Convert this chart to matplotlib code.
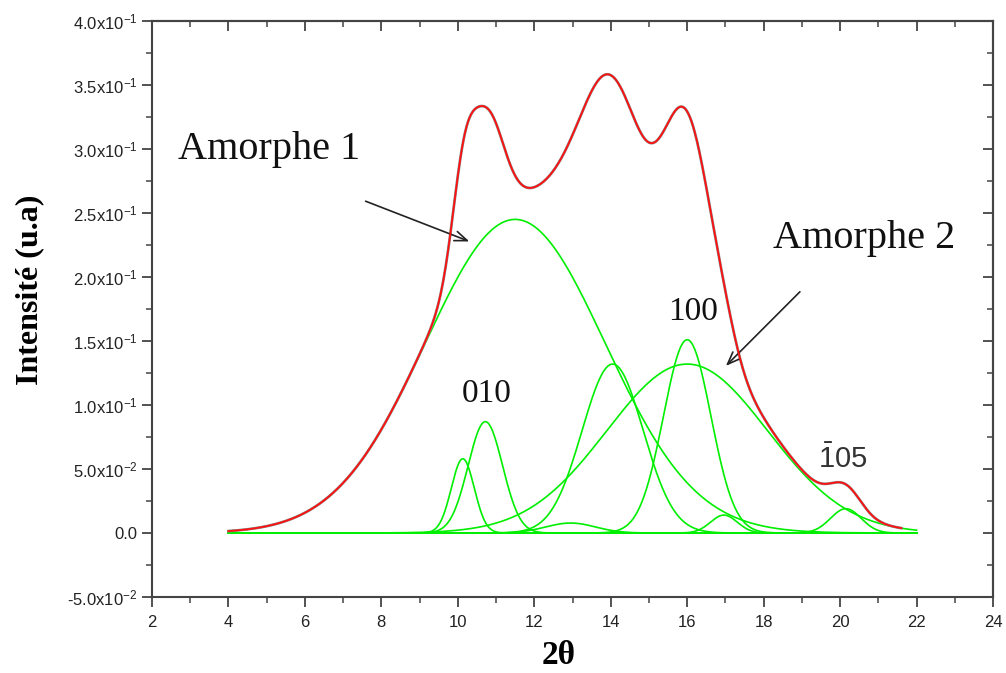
import numpy as np
import matplotlib
matplotlib.use("Agg")
import matplotlib.pyplot as plt
from matplotlib.ticker import MultipleLocator

# ------------------------------------------------------------
# donnees (decomposition du diffractogramme)
# ------------------------------------------------------------
peak_names   = ["Amorphe 1", "p10.1", "010", "p13", "p14", "100", "Amorphe 2", "p17", "-105"]
peak_centers = [11.5, 10.13, 10.72, 12.95, 14.05, 16.0, 16.0, 16.96, 20.15]
peak_heights = [0.245, 0.058, 0.087, 0.0078, 0.132, 0.151, 0.132, 0.014, 0.019]
peak_widths  = [2.35, 0.30, 0.45, 0.65, 0.80, 0.62, 2.10, 0.35, 0.40]

x_start, x_end = 4.0, 22.0      # domaine des composantes
fit_end = 21.6                  # fin de la courbe mesuree / ajustee

y_ticks = [-0.05, 0.0, 0.05, 0.10, 0.15, 0.20, 0.25, 0.30, 0.35, 0.40]
y_tick_labels = [r"-5.0x10$^{-2}$", "0.0", r"5.0x10$^{-2}$", r"1.0x10$^{-1}$",
                 r"1.5x10$^{-1}$", r"2.0x10$^{-1}$", r"2.5x10$^{-1}$",
                 r"3.0x10$^{-1}$", r"3.5x10$^{-1}$", r"4.0x10$^{-1}$"]
x_ticks = [2, 4, 6, 8, 10, 12, 14, 16, 18, 20, 22, 24]

plt.rcParams["mathtext.fontset"] = "custom"
plt.rcParams["mathtext.rm"] = "Liberation Sans"
plt.rcParams["mathtext.it"] = "Liberation Sans:italic"
plt.rcParams["mathtext.bf"] = "Liberation Sans:bold"
plt.rcParams["font.family"] = "Liberation Sans"


def gauss(x, c, h, w):
    return h * np.exp(-(x - c) ** 2 / (2 * w ** 2))


x = np.linspace(x_start, x_end, 900)
composantes = [gauss(x, c, h, w) for c, h, w in zip(peak_centers, peak_heights, peak_widths)]
total = np.sum(composantes, axis=0)
masque = x <= fit_end

fig = plt.figure(figsize=(10.06, 6.73), dpi=100)
ax = fig.add_axes([0.1511, 0.1129, 0.8360, 0.8559])

# composantes vertes
for comp in composantes:
    ax.plot(x, comp, color="#00ee00", lw=1.2, zorder=2)

# donnees (gris) + ajustement (rouge)
ax.plot(x[masque], total[masque], color="#8c8c8c", lw=2.0, zorder=3)
ax.plot(x[masque], total[masque], color="#ff1010", lw=1.3, zorder=4)

ax.set_xlim(2, 24)
ax.set_ylim(-0.05, 0.40)
ax.set_xticks(x_ticks)
ax.set_xticklabels([str(t) for t in x_ticks])
ax.set_yticks(y_ticks)
ax.set_yticklabels(y_tick_labels)
ax.xaxis.set_minor_locator(MultipleLocator(1))
ax.yaxis.set_minor_locator(MultipleLocator(0.025))
ax.tick_params(which="major", direction="out", length=7, width=1.3, color="#444444",
               labelsize=12, labelcolor="#222222")
ax.tick_params(which="minor", direction="out", length=4, width=1.1, color="#444444")
ax.tick_params(axis="x", pad=6)

# ticks vers l'interieur en haut et a droite
sx = ax.secondary_xaxis("top")
sx.set_xticks(x_ticks)
sx.xaxis.set_minor_locator(MultipleLocator(1))
sx.tick_params(which="both", direction="in", labeltop=False, color="#444444")
sx.tick_params(which="major", length=7, width=1.3)
sx.tick_params(which="minor", length=4, width=1.1)
sy = ax.secondary_yaxis("right")
sy.set_yticks(y_ticks)
sy.yaxis.set_minor_locator(MultipleLocator(0.025))
sy.tick_params(which="both", direction="in", labelright=False, color="#444444")
sy.tick_params(which="major", length=7, width=1.3)
sy.tick_params(which="minor", length=4, width=1.1)

for sp in list(ax.spines.values()) + [sx.spines["top"], sy.spines["right"]]:
    sp.set_color("#444444")
    sp.set_linewidth(1.5)

ax.set_xlabel("2θ", family="Liberation Serif", fontweight="bold", fontsize=24)
ax.xaxis.set_label_coords(0.483, -0.075)
ax.set_ylabel("Intensité (u.a)", family="Liberation Serif", fontweight="bold", fontsize=23)
ax.yaxis.set_label_coords(-0.128, 0.533)

# annotations
serif = dict(family="Liberation Serif", color="#111111")
ax.text(2.68, 0.30, "Amorphe 1", fontsize=29, va="center", ha="left", **serif)
ax.text(18.24, 0.23, "Amorphe 2", fontsize=29, va="center", ha="left", **serif)
ax.text(16.15, 0.173, "100", fontsize=24, va="center", ha="center", **serif)
ax.text(10.76, 0.109, "010", fontsize=24, va="center", ha="center", **serif)
ax.text(19.42, 0.058, r"$\bar{1}05$", fontsize=21, va="center", ha="left", color="#333333")

fleche = dict(arrowstyle="->,head_length=0.9,head_width=0.35", color="#222222", lw=1.2)
ax.annotate("", xy=(10.37, 0.227), xytext=(7.52, 0.260), arrowprops=fleche)
ax.annotate("", xy=(16.96, 0.129), xytext=(19.0, 0.19), arrowprops=fleche)

fig.savefig("out.png", dpi=100)
